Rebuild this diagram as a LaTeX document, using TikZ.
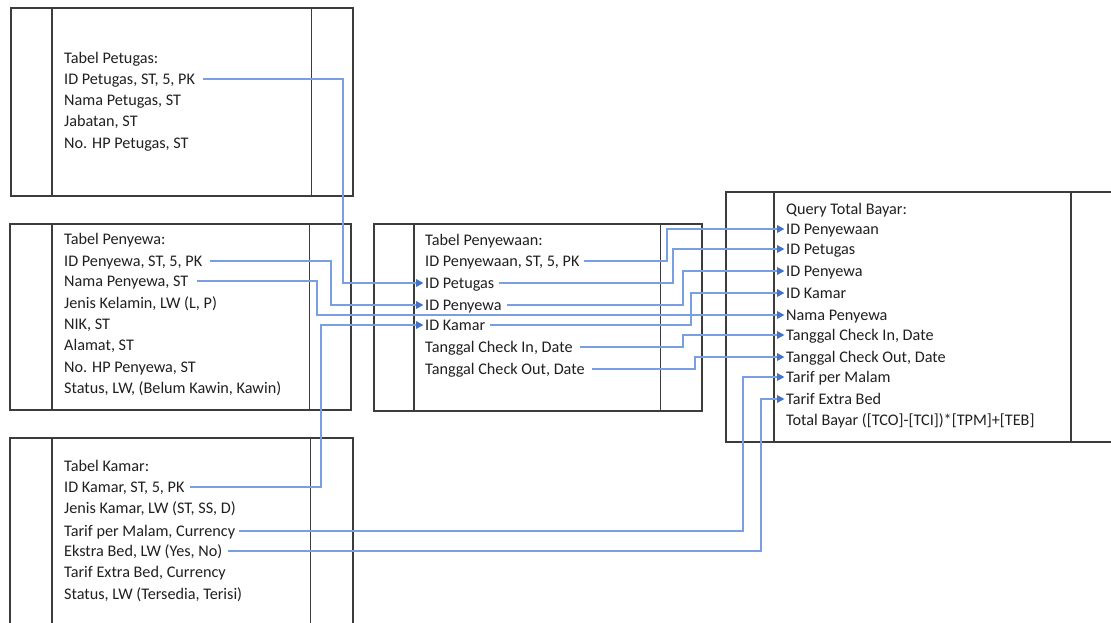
\documentclass[tikz,border=0pt]{standalone}
\usepackage{fontspec}
\setmainfont{Carlito}
\usetikzlibrary{arrows.meta}
\definecolor{boxc}{HTML}{3C3C3C}
\definecolor{linec}{HTML}{7A9FE0}
\definecolor{tipc}{HTML}{4472C4}
\definecolor{txtc}{HTML}{202020}
\begin{document}
\begin{tikzpicture}[x=1pt,y=-1pt,
  tbox/.style={draw=boxc, line width=1.6pt, anchor=north west, inner sep=0pt},
  divline/.style={draw=boxc, line width=1.6pt},
  fld/.style={anchor=west, inner sep=0pt, text height=10.3pt, text depth=0pt,
              font=\fontsize{16.2}{19}\selectfont, text=txtc},
  conn/.style={draw=linec, line width=1.8pt},
  arr/.style={conn, -{Triangle[length=7.5pt,width=7.5pt,color=tipc]}}]
\clip (0,0) rectangle (1111,623);
\fill[white] (0,0) rectangle (1111,623);

% ---------- table frames ----------
\node[tbox, minimum width=342pt, minimum height=188pt] (tpet) at (10,7) {};
\node[tbox, minimum width=341pt, minimum height=186pt] (tpyw) at (9,223) {};
\node[tbox, minimum width=343pt, minimum height=220pt] (tkmr) at (9,437) {};
\node[tbox, minimum width=328pt, minimum height=187pt] (tsew) at (373,223) {};
\node[tbox, minimum width=420pt, minimum height=250pt] (tqry) at (725,191) {};

\draw[divline] ([xshift=42pt]tpet.north west) -- ([xshift=42pt]tpet.south west);
\draw[divline] ([xshift=-42pt]tpet.north east) -- ([xshift=-42pt]tpet.south east);
\draw[divline] ([xshift=43pt]tpyw.north west) -- ([xshift=43pt]tpyw.south west);
\draw[divline] ([xshift=-42pt]tpyw.north east) -- ([xshift=-42pt]tpyw.south east);
\draw[divline] ([xshift=43pt]tkmr.north west) -- ([xshift=43pt]tkmr.south west);
\draw[divline] ([xshift=-43pt]tkmr.north east) -- ([xshift=-43pt]tkmr.south east);
\draw[divline] ([xshift=41pt]tsew.north west) -- ([xshift=41pt]tsew.south west);
\draw[divline] ([xshift=-42pt]tsew.north east) -- ([xshift=-42pt]tsew.south east);
\draw[divline] ([xshift=49pt]tqry.north west) -- ([xshift=49pt]tqry.south west);
\draw[divline] ([xshift=346pt]tqry.north west) -- ([xshift=346pt]tqry.south west);

% ---------- Tabel Petugas ----------
\node[fld] (pt0) at (64,58.5)   {Tabel Petugas:};
\node[fld] (pt1) at (64,79)     {ID Petugas, ST, 5, PK};
\node[fld] (pt2) at (64,100.5)  {Nama Petugas, ST};
\node[fld] (pt3) at (64,121.85) {Jabatan, ST};
\node[fld] (pt4) at (64,143.2)  {No. HP Petugas, ST};

% ---------- Tabel Penyewa ----------
\node[fld] (py0) at (64,239.5)  {Tabel Penyewa:};
\node[fld] (py1) at (64,261)    {ID Penyewa, ST, 5, PK};
\node[fld] (py2) at (64,281)    {Nama Penyewa, ST};
\node[fld] (py3) at (64,303.05) {Jenis Kelamin, LW (L, P)};
\node[fld] (py4) at (64,324.4)  {NIK, ST};
\node[fld] (py5) at (64,345.75) {Alamat, ST};
\node[fld] (py6) at (64,367.1)  {No. HP Penyewa, ST};
\node[fld] (py7) at (64,388.45) {Status, LW, (Belum Kawin, Kawin)};

% ---------- Tabel Kamar ----------
\node[fld] (km0) at (64,466.5)  {Tabel Kamar:};
\node[fld] (km1) at (64,487)    {ID Kamar, ST, 5, PK};
\node[fld] (km2) at (64,508.7)  {Jenis Kamar, LW (ST, SS, D)};
\node[fld] (km3) at (64,531)    {Tarif per Malam, Currency};
\node[fld] (km4) at (64,551)    {Ekstra Bed, LW (Yes, No)};
\node[fld] (km5) at (64,572.75) {Tarif Extra Bed, Currency};
\node[fld] (km6) at (64,594.1)  {Status, LW (Tersedia, Terisi)};

% ---------- Tabel Penyewaan ----------
\node[fld] (sw0) at (425,240.5) {Tabel Penyewaan:};
\node[fld] (sw1) at (425,261)   {ID Penyewaan, ST, 5, PK};
\node[fld] (sw2) at (425,283)   {ID Petugas};
\node[fld] (sw3) at (425,305)   {ID Penyewa};
\node[fld] (sw4) at (425,325)   {ID Kamar};
\node[fld] (sw5) at (425,347)   {Tanggal Check In, Date};
\node[fld] (sw6) at (425,369)   {Tanggal Check Out, Date};

% ---------- Query Total Bayar ----------
\node[fld] (q0)  at (786,209)   {Query Total Bayar:};
\node[fld] (q1)  at (786,229)   {ID Penyewaan};
\node[fld] (q2)  at (786,249)   {ID Petugas};
\node[fld] (q3)  at (786,271)   {ID Penyewa};
\node[fld] (q4)  at (786,293)   {ID Kamar};
\node[fld] (q5)  at (786,315)   {Nama Penyewa};
\node[fld] (q6)  at (786,335)   {Tanggal Check In, Date};
\node[fld] (q7)  at (786,357)   {Tanggal Check Out, Date};
\node[fld] (q8)  at (786,377)   {Tarif per Malam};
\node[fld] (q9)  at (786,399)   {Tarif Extra Bed};
\node[fld] (q10) at (786,420.5) {Total Bayar ([TCO]-[TCI])*[TPM]+[TEB]};

% ---------- connectors ----------
\draw[arr] ([xshift=8pt]pt1.east) -| (343,0 |- sw2.west) -- ([xshift=-1.5pt]sw2.west);
\draw[arr] ([xshift=8pt]py1.east) -| (331,0 |- sw3.west) -- ([xshift=-1.5pt]sw3.west);
\draw[arr] ([xshift=8pt]py2.east) -| (317,0 |- q5.west) -- ([xshift=-1.5pt]q5.west);
\draw[arr] ([xshift=5pt]km1.east) -| (321,0 |- sw4.west) -- ([xshift=-1.5pt]sw4.west);

\draw[arr] ([xshift=4pt]sw1.east) -| (667,0 |- q1.west) -- ([xshift=-1.5pt]q1.west);
\draw[arr] ([xshift=5pt]sw2.east) -| (673,0 |- q2.west) -- ([xshift=-1.5pt]q2.west);
\draw[arr] ([xshift=5pt]sw3.east) -| (683,0 |- q3.west) -- ([xshift=-1.5pt]q3.west);
\draw[arr] ([xshift=5pt]sw4.east) -| (691,0 |- q4.west) -- ([xshift=-1.5pt]q4.west);
\draw[arr] ([xshift=7pt]sw5.east) -| (683,0 |- q6.west) -- ([xshift=-1.5pt]q6.west);
\draw[arr] ([xshift=7pt]sw6.east) -| (695,0 |- q7.west) -- ([xshift=-1.5pt]q7.west);

\draw[arr] ([xshift=4pt]km3.east) -| (743,0 |- q8.west) -- ([xshift=-1.5pt]q8.west);
\draw[arr] ([xshift=5pt]km4.east) -| (761,0 |- q9.west) -- ([xshift=-1.5pt]q9.west);
\end{tikzpicture}
\end{document}
